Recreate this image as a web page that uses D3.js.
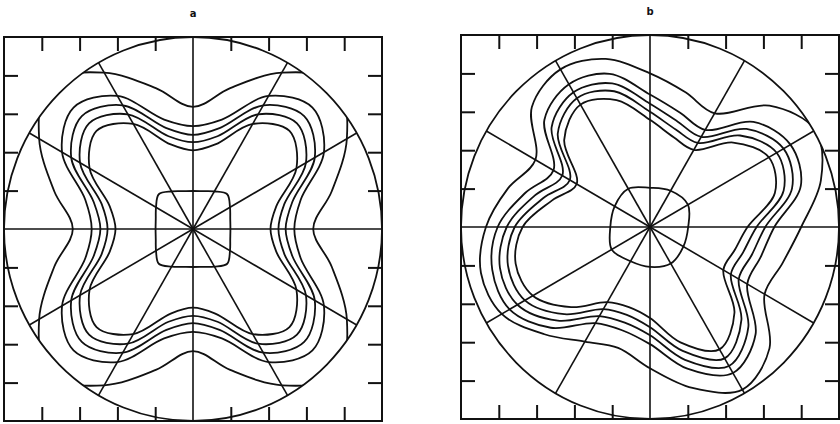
<!DOCTYPE html>
<html>
<head>
<meta charset="utf-8">
<script src="https://cdn.jsdelivr.net/npm/d3@7"></script>
<style>
  body { margin: 0; background: #fff; }
</style>
</head>
<body>
<div id="chart"></div>
<script>
// Radii are read every 15 degrees, counter-clockwise from 3 o'clock.
// Units: the frame runs from -5 to 5 on both axes, circle radius is 5.
var angles = d3.range(0, 360, 15);
var coarseAngles = d3.range(0, 360, 30);
var rayAngles = [30, 60, 120, 150, 210, 240, 300, 330];
var tickValues = [-4, -3, -2, -1, 1, 2, 3, 4];
var panelLabels = ['a', 'b'];

// panel a
var aCore   = [0.99,1.02,1.13,1.28,1.13,1.02, 0.99,1.02,1.13,1.28,1.13,1.02, 0.99,1.02,1.13,1.28,1.13,1.02, 0.99,1.02,1.13,1.28,1.13,1.02];
var aLevel1 = [2.05,2.28,3.16,3.61,3.16,2.28, 2.05,2.28,3.16,3.61,3.16,2.28, 2.05,2.28,3.16,3.61,3.16,2.28, 2.05,2.28,3.16,3.61,3.16,2.28];
var aLevel2 = [2.26,2.50,3.45,3.89,3.45,2.50, 2.26,2.50,3.45,3.89,3.45,2.50, 2.26,2.50,3.45,3.89,3.45,2.50, 2.26,2.50,3.45,3.89,3.45,2.50];
var aLevel3 = [2.45,2.72,3.72,4.16,3.72,2.72, 2.45,2.72,3.72,4.16,3.72,2.72, 2.45,2.72,3.72,4.16,3.72,2.72, 2.45,2.72,3.72,4.16,3.72,2.72];
var aLevel4 = [2.68,2.95,4.00,4.47,4.00,2.95, 2.68,2.95,4.00,4.47,4.00,2.95, 2.68,2.95,4.00,4.47,4.00,2.95, 2.68,2.95,4.00,4.47,4.00,2.95];
var aLevel5 = [3.18,3.80,4.70,5.40,4.70,3.80, 3.18,3.80,4.70,5.40,4.70,3.80, 3.18,3.80,4.70,5.40,4.70,3.80, 3.18,3.80,4.70,5.40,4.70,3.80];

// panel b (core is read every 30 degrees)
var bCore   = [1.01,1.16,1.09,1.02,1.15,1.08,1.05,1.17,1.03,1.04,1.10,1.02];
var bLevel1 = [2.58,3.42,3.63,3.11,2.32,2.42,2.79,3.42,3.68,3.21,2.24,2.68,3.37,3.68,3.58,2.95,2.26,2.16,2.37,3.11,3.68,3.16,2.24,2.32];
var bLevel2 = [2.82,3.66,3.87,3.37,2.53,2.63,3.00,3.66,3.87,3.45,2.45,2.92,3.58,3.89,3.82,3.21,2.47,2.37,2.61,3.34,3.95,3.42,2.47,2.55];
var bLevel3 = [3.05,3.89,4.08,3.61,2.71,2.84,3.21,3.87,4.05,3.68,2.68,3.16,3.79,4.11,4.05,3.45,2.68,2.58,2.82,3.58,4.18,3.68,2.71,2.79];
var bLevel4 = [3.29,4.13,4.29,3.87,2.92,3.08,3.45,4.13,4.29,3.95,2.95,3.42,4.03,4.32,4.29,3.71,2.89,2.79,3.05,3.82,4.39,3.95,2.97,3.03];
var bLevel5 = [4.00,4.68,5.05,4.47,3.42,3.63,4.00,4.53,4.74,4.42,3.50,3.89,4.34,4.63,4.53,3.95,3.45,3.26,3.68,4.34,4.89,4.47,3.50,3.63];

var width = 840, height = 424,
    halfW = 189, halfH = 192,
    ink = '#111';

var svg = d3.select('#chart').append('svg')
  .attr('width', width)
  .attr('height', height);

var panels = [
  { label: panelLabels[0], cx: 193, cy: 229, core: aCore, coreAngles: angles,
    levels: [aLevel1, aLevel2, aLevel3, aLevel4, aLevel5] },
  { label: panelLabels[1], cx: 650, cy: 227, core: bCore, coreAngles: coarseAngles,
    levels: [bLevel1, bLevel2, bLevel3, bLevel4, bLevel5] }
];

function polar(r, deg) {
  var t = deg * Math.PI / 180;
  return [r * Math.cos(t), r * Math.sin(t)];
}

panels.forEach(function(p, pi) {
  var x = d3.scaleLinear().domain([-5, 5]).range([p.cx - halfW, p.cx + halfW]);
  var y = d3.scaleLinear().domain([-5, 5]).range([p.cy + halfH, p.cy - halfH]);

  var line = d3.line()
    .x(function(d){ return x(d[0]); })
    .y(function(d){ return y(d[1]); })
    .curve(d3.curveCatmullRomClosed.alpha(0.5));

  var g = svg.append('g').attr('id', 'panel' + p.label);

  g.append('text')
    .attr('x', x(0))
    .attr('y', y(5) - 20)
    .attr('text-anchor', 'middle')
    .attr('font-family', 'DejaVu Sans, sans-serif')
    .attr('font-weight', 'bold')
    .attr('font-size', 10)
    .attr('fill', ink)
    .text(p.label);

  // frame with inward ticks
  g.append('rect')
    .attr('x', x(-5)).attr('y', y(5))
    .attr('width', x(5) - x(-5)).attr('height', y(-5) - y(5))
    .attr('fill', 'none').attr('stroke', ink).attr('stroke-width', 2);

  var axes = [
    { a: d3.axisTop(x),    t: 'translate(0,' + y(5) + ')' },
    { a: d3.axisBottom(x), t: 'translate(0,' + y(-5) + ')' },
    { a: d3.axisLeft(y),   t: 'translate(' + x(-5) + ',0)' },
    { a: d3.axisRight(y),  t: 'translate(' + x(5) + ',0)' }
  ];
  axes.forEach(function(ax){
    g.append('g').attr('transform', ax.t)
      .call(ax.a.tickValues(tickValues).tickSize(-14).tickFormat(''))
      .call(function(s){
        s.select('.domain').remove();
        s.selectAll('.tick line').attr('stroke', ink).attr('stroke-width', 2);
      });
  });

  // cross hairs through the whole frame
  g.append('line')
    .attr('x1', x(-5)).attr('x2', x(5)).attr('y1', y(0)).attr('y2', y(0))
    .attr('stroke', ink).attr('stroke-width', 1.6);
  g.append('line')
    .attr('x1', x(0)).attr('x2', x(0)).attr('y1', y(5)).attr('y2', y(-5))
    .attr('stroke', ink).attr('stroke-width', 1.6);

  // the boundary circle
  g.append('ellipse')
    .attr('cx', x(0)).attr('cy', y(0))
    .attr('rx', x(5) - x(0)).attr('ry', y(-5) - y(0))
    .attr('fill', 'none').attr('stroke', ink).attr('stroke-width', 1.8);

  // radial lines
  g.selectAll('.ray').data(rayAngles).join('line')
    .attr('class', 'ray')
    .attr('x1', x(0)).attr('y1', y(0))
    .attr('x2', function(d){ return x(polar(5, d)[0]); })
    .attr('y2', function(d){ return y(polar(5, d)[1]); })
    .attr('stroke', ink).attr('stroke-width', 1.6);

  // clip the contours to the circle
  var clipId = 'clip' + pi;
  svg.append('clipPath').attr('id', clipId)
    .append('ellipse')
      .attr('cx', x(0)).attr('cy', y(0))
      .attr('rx', x(5) - x(0)).attr('ry', y(-5) - y(0));

  var contours = g.append('g').attr('clip-path', 'url(#' + clipId + ')');

  contours.append('path')
    .attr('d', line(p.core.map(function(r, i){ return polar(r, p.coreAngles[i]); })))
    .attr('fill', 'none').attr('stroke', ink).attr('stroke-width', 1.8);

  contours.selectAll('.level').data(p.levels).join('path')
    .attr('class', 'level')
    .attr('d', function(d){
      return line(d.map(function(r, i){ return polar(r, angles[i]); }));
    })
    .attr('fill', 'none').attr('stroke', ink).attr('stroke-width', 1.8);
});
</script>
</body>
</html>
